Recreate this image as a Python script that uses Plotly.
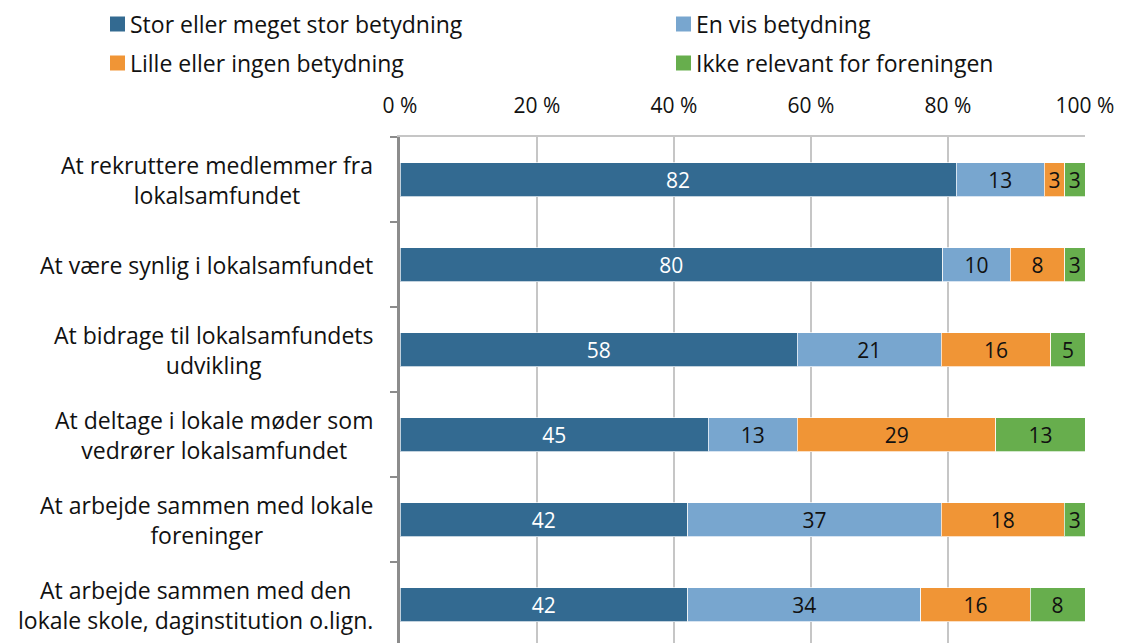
import plotly.graph_objects as go

# Survey items (top to bottom) and answer shares in percent
categories = [
    "At rekruttere medlemmer fra<br>lokalsamfundet",
    "At være synlig i lokalsamfundet",
    "At bidrage til lokalsamfundets<br>udvikling",
    "At deltage i lokale møder som<br>vedrører lokalsamfundet",
    "At arbejde sammen med lokale<br>foreninger",
    "At arbejde sammen med den<br>lokale skole, daginstitution o.lign.",
]
series_names = [
    "Stor eller meget stor betydning",
    "En vis betydning",
    "Lille eller ingen betydning",
    "Ikke relevant for foreningen",
]
stor = [82, 80, 58, 45, 42, 42]
vis = [13, 10, 21, 13, 37, 34]
lille = [3, 8, 16, 29, 18, 16]
ikke = [3, 3, 5, 13, 3, 8]
x_ticks = [0, 20, 40, 60, 80, 100]
x_tick_labels = ["0 %", "20 %", "40 %", "60 %", "80 %", "100 %"]

colors = ["#336A91", "#78A6CF", "#F09536", "#67AE4D"]
text_colors = ["#FFFFFF", "#111111", "#111111", "#111111"]
FONT = "Open Sans"
LABEL_SIZE = 23
NUM_SIZE = 21

W, H = 1122, 643
ML, MR, MT, MB = 400, 37, 137, 0
PW = W - ML - MR
PH = H - MT - MB


def px_x(px):
    return (px - ML) / PW


def px_y(py):
    return 1 - (py - MT) / PH


fig = go.Figure()
ids = list(range(len(categories)))
for name, vals, col, tcol in zip(series_names, [stor, vis, lille, ikke], colors, text_colors):
    fig.add_trace(go.Bar(
        y=ids, x=vals, name=name, orientation="h",
        marker=dict(color=col, line=dict(color="rgba(255,255,255,0.7)", width=1)),
        text=[str(v) for v in vals], textposition="inside",
        insidetextanchor="middle", textangle=0, constraintext="none",
        textfont=dict(family=FONT, size=NUM_SIZE, color=tcol),
        width=0.4, showlegend=False, hoverinfo="skip",
    ))

# Category labels, lines centred within each label block
annotations = []
for i, c in enumerate(categories):
    annotations.append(dict(
        x=px_x(375), xref="paper", y=i, yref="y", text=c, showarrow=False,
        xanchor="right", yanchor="middle", align="center",
        font=dict(family=FONT, size=LABEL_SIZE, color="#111111"),
    ))

# Two-column legend
legend_pos = [(110, 24), (676, 24), (110, 63), (676, 63)]
shapes = []
for (lx, ly), name, col in zip(legend_pos, series_names, colors):
    shapes.append(dict(
        type="rect", xref="paper", yref="paper",
        x0=px_x(lx), x1=px_x(lx + 15), y0=px_y(ly + 7.5), y1=px_y(ly - 7.5),
        fillcolor=col, line=dict(width=0),
    ))
    annotations.append(dict(
        x=px_x(lx + 18), xref="paper", y=px_y(ly), yref="paper", text=name,
        showarrow=False, xanchor="left", yanchor="middle",
        font=dict(family=FONT, size=LABEL_SIZE, color="#111111"),
    ))

fig.update_layout(
    width=W, height=H,
    margin=dict(l=ML, r=MR, t=MT, b=MB, pad=0),
    barmode="stack", barnorm="percent",
    plot_bgcolor="white", paper_bgcolor="white",
    font=dict(family=FONT, size=NUM_SIZE, color="#111111"),
    annotations=annotations, shapes=shapes,
    xaxis=dict(
        side="top", range=[0, 100], tickvals=x_ticks, ticktext=x_tick_labels,
        showgrid=True, gridcolor="#C6C6C6", gridwidth=2,
        showline=True, linecolor="#C6C6C6", linewidth=2,
        ticks="", ticklabelstandoff=14, zeroline=False,
        tickfont=dict(family=FONT, size=NUM_SIZE, color="#111111"),
        fixedrange=True,
    ),
    yaxis=dict(
        type="linear", range=[5.453, -0.5], showgrid=False, zeroline=False,
        tickvals=[i - 0.5 for i in range(len(categories) + 1)],
        showticklabels=False, ticks="outside", ticklen=7, tickwidth=2,
        tickcolor="#8C8C8C", showline=True, linecolor="#8C8C8C", linewidth=2.5,
        fixedrange=True,
    ),
)

fig.write_html("out.html")
